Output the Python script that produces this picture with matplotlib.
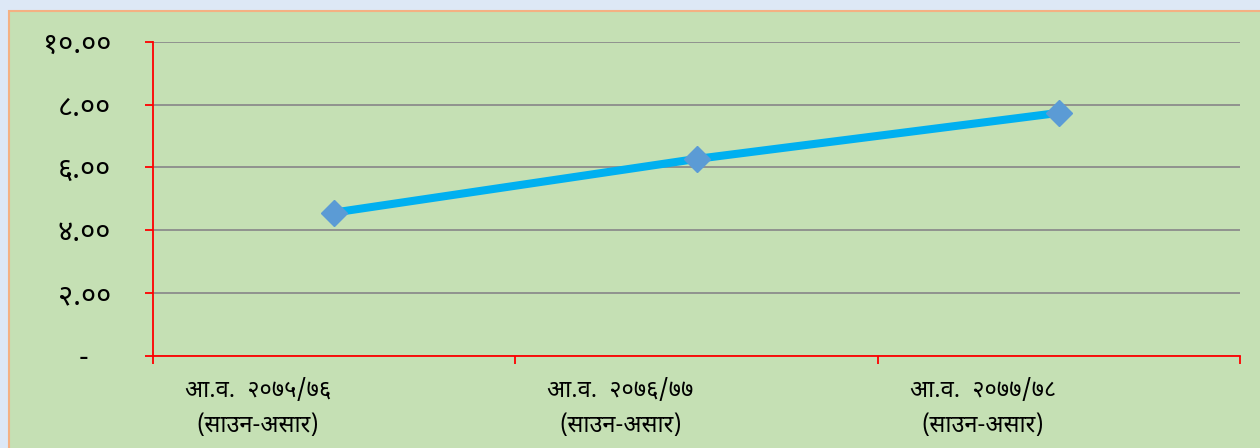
import matplotlib
matplotlib.use("Agg")
import matplotlib.pyplot as plt
from matplotlib.patches import Rectangle
from matplotlib.transforms import ScaledTranslation

# Data
categories = ["आ.व.  २०७५/७६\n(साउन-असार)",
              "आ.व.  २०७६/७७\n(साउन-असार)",
              "आ.व.  २०७७/७८\n(साउन-असार)"]
values = [4.56, 6.27, 7.74]
y_ticks = [0, 2, 4, 6, 8, 10]
y_tick_labels = ["-   ", "२.००", "४.००", "६.००", "८.००", "१०.००"]

plt.rcParams["font.family"] = ["Noto Sans Devanagari", "DejaVu Sans"]

fig = plt.figure(figsize = (12.6, 4.48), dpi = 100)
fig.patch.set_facecolor("#dde8f6")

# Green chart area with orange border (behind the axes)
fig.patches.append(Rectangle((9 / 1260, -0.05), 1.1, 1 - 11 / 448 + 0.05,
                             transform = fig.transFigure, facecolor = "#c5e0b4",
                             edgecolor = "#f4b183", linewidth = 1.5, zorder = -10))

ax = fig.add_axes([153 / 1260, 1 - 355.5 / 448, 1087 / 1260, 313.5 / 448])
ax.set_facecolor("none")

x = list(range(len(values)))
ax.plot(x, values, color = "#00b0f0", linewidth = 5.8, marker = "D",
        markersize = 13, markerfacecolor = "#5b9bd5", markeredgecolor = "#5b9bd5",
        zorder = 3)

ax.set_xlim(-0.5, len(values) - 0.5)
ax.set_ylim(0, 10)

# Grid lines
ax.set_yticks(y_ticks)
ax.set_yticklabels(y_tick_labels, fontsize = 21)
ax.grid(axis = "y", color = "#8c8c8c", linewidth = 1.3)
ax.set_axisbelow(True)

# Category labels and boundary ticks
ax.set_xticks(x)
ax.set_xticklabels(categories, fontsize = 17, linespacing = 1.62, va = "top")
ax.set_xticks([i - 0.5 for i in range(len(values) + 1)], minor = True)
ax.tick_params(axis = "x", which = "major", length = 0, pad = 17)
ax.tick_params(axis = "x", which = "minor", length = 6, width = 1.3, color = "red", direction = "out")
ax.tick_params(axis = "y", length = 6, width = 1.3, color = "red", pad = 24)

# labels in the original sit a bit left of the category centre
shift = ScaledTranslation(-0.76, 0, fig.dpi_scale_trans)
for label in ax.get_xticklabels():
    label.set_transform(label.get_transform() + shift)

for side in ["top", "right"]:
    ax.spines[side].set_visible(False)
for side in ["left", "bottom"]:
    ax.spines[side].set_color("red")
    ax.spines[side].set_linewidth(1.3)

fig.savefig("out.png", dpi = 100, facecolor = fig.get_facecolor())
plt.close()
